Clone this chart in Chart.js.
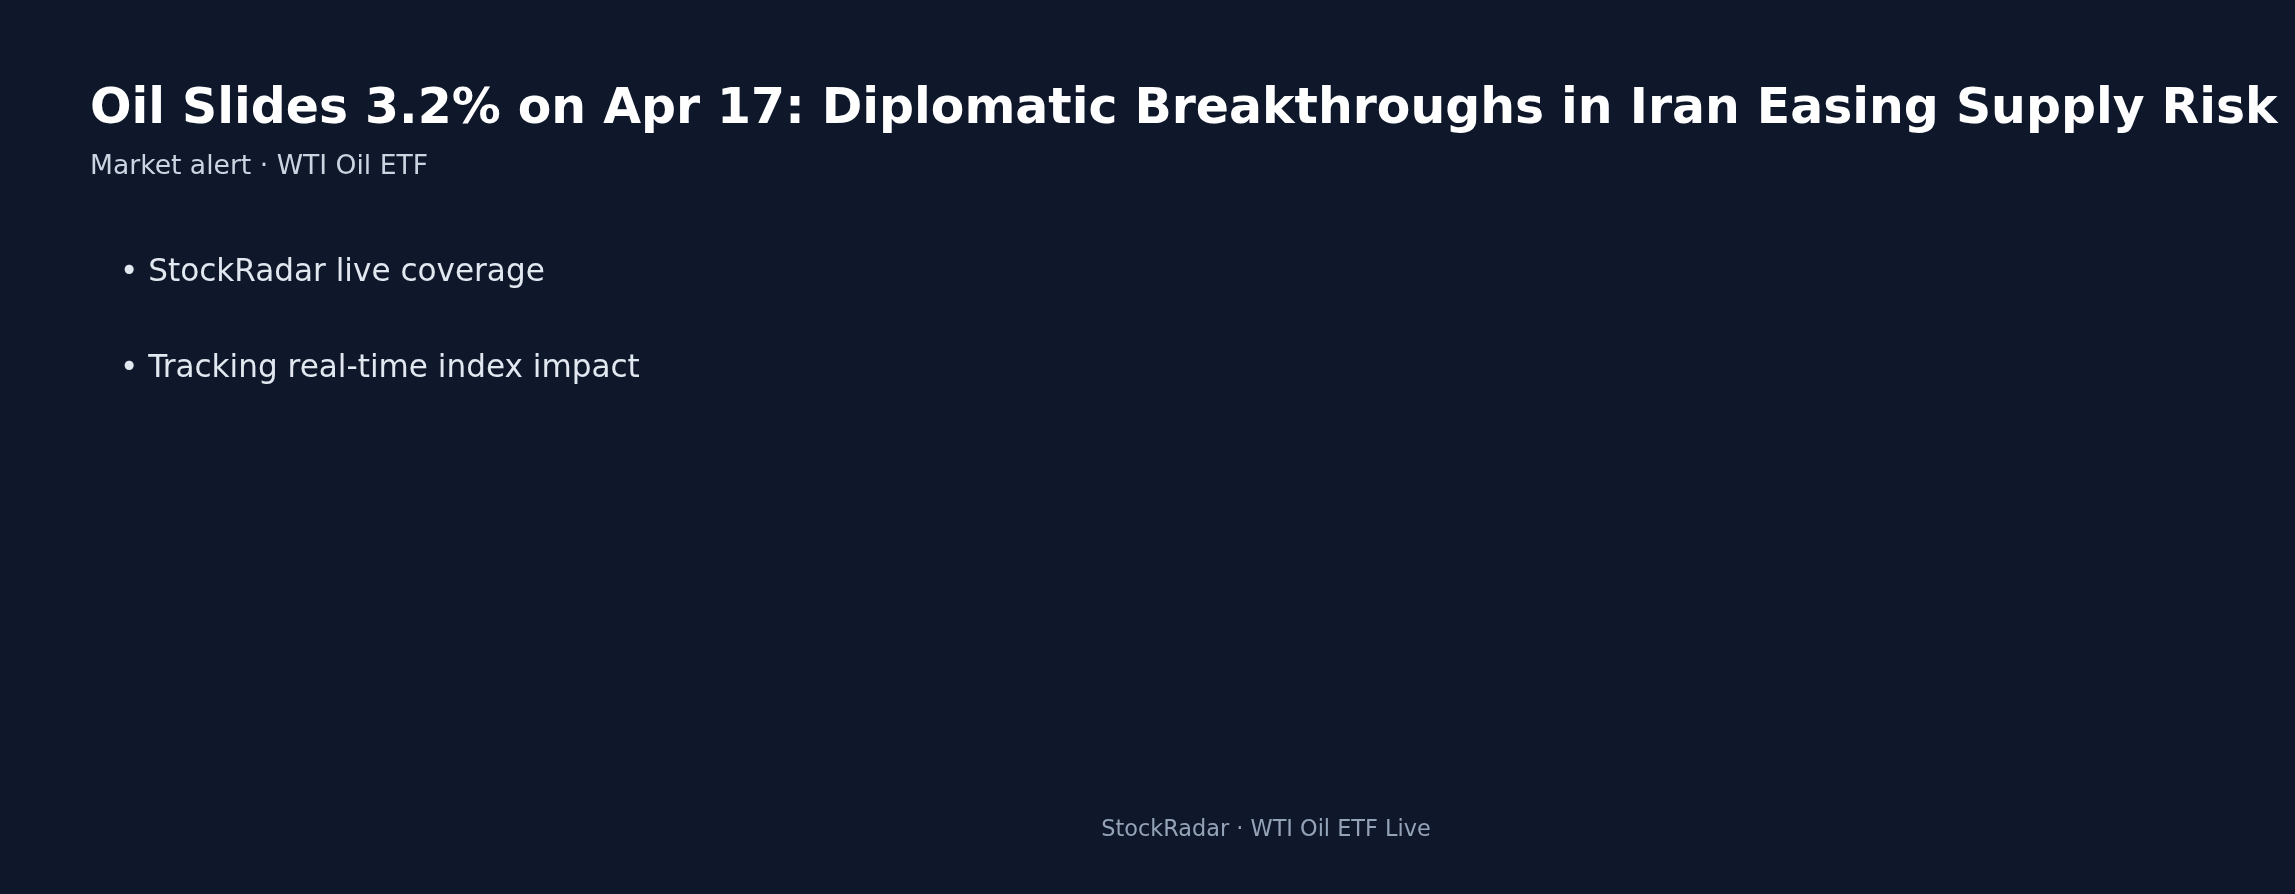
<!DOCTYPE html>
<html>
<head>
<meta charset="utf-8">
<title>Oil Slides 3.2% on Apr 17</title>
<script src="https://cdn.jsdelivr.net/npm/chart.js@4.4.1/dist/chart.umd.min.js"></script>
<style>
    html, body { margin: 0; padding: 0; background: #0f172a; }
    #wrap { width: 2295px; height: 894px; position: relative; }
</style>
</head>
<body>
<div id="wrap"><canvas id="alertChart"></canvas></div>
<script>
// ======================================================
// Data (text content of the alert card)
// ======================================================
const titleText = 'Oil Slides 3.2% on Apr 17: Diplomatic Breakthroughs in Iran Easing Supply Risk';
const subtitleText = 'Market alert \u00b7 WTI Oil ETF';
const bulletItems = ['StockRadar live coverage', 'Tracking real-time index impact'];
const footerText = 'StockRadar \u00b7 WTI Oil ETF Live';

const FONT = '"DejaVu Sans", "Noto Sans", sans-serif';

// ======================================================
// Plugin: background + slide text
// ======================================================
const slideTextPlugin = {
    id: 'slideText',
    beforeDraw(chart) {
        const ctx = chart.ctx;
        ctx.save();
        ctx.fillStyle = '#0f172a';
        ctx.fillRect(0, 0, chart.width, chart.height);
        ctx.restore();
    },
    afterDraw(chart) {
        const ctx = chart.ctx;
        ctx.save();
        ctx.textBaseline = 'alphabetic';
        ctx.textAlign = 'left';

        // title
        ctx.fillStyle = '#ffffff';
        ctx.font = 'bold 48.9px ' + FONT;
        ctx.fillText(titleText, 90, 123);

        // subtitle
        ctx.fillStyle = '#cbd5e1';
        ctx.font = '26.6px ' + FONT;
        ctx.fillText(subtitleText, 90, 174);

        // bullets
        ctx.fillStyle = '#e2e8f0';
        ctx.font = '31.1px ' + FONT;
        bulletItems.forEach(function(item, i) {
            ctx.fillText('\u2022 ' + item, 120, 281 + i * 96);
        });

        // footer
        ctx.fillStyle = '#94a3b8';
        ctx.font = '22.4px ' + FONT;
        ctx.textAlign = 'center';
        ctx.fillText(footerText, 1266, 835.5);

        ctx.restore();
    }
};

new Chart(document.getElementById('alertChart').getContext('2d'), {
    type: 'line',
    data: { labels: [], datasets: [] },
    options: {
        responsive: true,
        maintainAspectRatio: false,
        animation: false,
        plugins: {
            legend: { display: false },
            title: { display: false },
            tooltip: { enabled: false }
        },
        scales: {
            x: { display: false },
            y: { display: false }
        }
    },
    plugins: [slideTextPlugin]
});
</script>
</body>
</html>
